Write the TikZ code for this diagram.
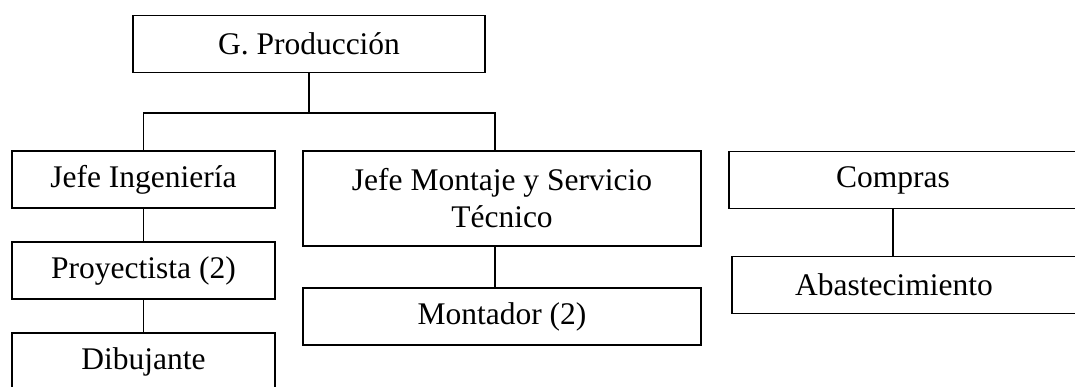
\documentclass[tikz,border=0pt]{standalone}
\usepackage{fontspec}
\setmainfont{Liberation Serif}

\begin{document}
\begin{tikzpicture}[x=1pt,y=-1pt,
    box/.style={draw,line width=1.7pt,minimum height=57pt,inner sep=0pt,align=center,
      font=\fontsize{31.5}{37}\selectfont},
    boxtext/.style={font=\fontsize{31.5}{37}\selectfont,inner sep=0pt},
    link/.style={line width=1.2pt}]

      \useasboundingbox (0,0) rectangle (1075,387);

      \node[box,minimum width=352pt] (prod) at (309,44) {G. Producción};

      \node[box,minimum width=263pt] (ing) at (143.5,179.5) {Jefe Ingeniería};
      \node[box,minimum width=263pt] (proy) at (143.5,270.5) {Proyectista (2)};
      \node[box,minimum width=263pt] (dib) at (143.5,361.5) {Dibujante};

      \node[box,minimum width=398pt,minimum height=95pt] (mont) at (502,198.5) {Jefe Montaje y Servicio\\Técnico};
      \node[box,minimum width=398pt] (montador) at (502,316.5) {Montador (2)};

      \node[box,minimum width=360pt,label={[boxtext,name=comprastxt,xshift=-16pt]center:Compras}] (compras) at (909,180) {};
      \node[box,minimum width=362pt,label={[boxtext,name=abastxt,xshift=-19pt]center:Abastecimiento}] (abas) at (913,285) {};

      \coordinate (split) at (309,113);
      \draw[link] (prod.south) -- (split);
      \draw[link] (ing.north) |- (split) -| ([xshift=-7pt]mont.north);
      \draw[link] (ing.south) -- (proy.north);
      \draw[link] (proy.south) -- (dib.north);
      \draw[link] ([xshift=-7pt]mont.south) -- ([xshift=-7pt]montador.north);
      \draw[link] (comprastxt |- compras.south) -- (comprastxt |- abas.north);

    \end{tikzpicture}
\end{document}
